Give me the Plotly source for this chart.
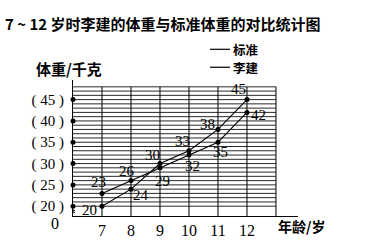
import plotly.graph_objects as go

ages = [7, 8, 9, 10, 11, 12]
lijian = [20, 24, 30, 33, 38, 45]
standard = [23, 26, 29, 32, 35, 42]
ytick_vals = [20, 25, 30, 35, 40, 45]
ytick_text = ["( 20 )", "( 25 )", "( 30 )", "( 35 )", "( 40 )", "( 45 )"]
legend_names = ["标准", "李建"]

# label offsets (px) for data labels
lj_off = [(-12, -4), (10, -6), (-7, 9), (-6, 10), (-10, 5), (-8, 11)]
st_off = [(-3, 11), (-4, 10), (3, -13), (4, -11), (3, -10), (12, -3)]

serif = "Liberation Serif, DejaVu Serif, serif"
cjk = "Noto Sans CJK SC, sans-serif"

L, R, T, B = 73, 72, 80, 27
W, H = 370, 251


def px2paper(px, py):
    return (px - L) / (W - L - R), 1 - (py - T) / (H - T - B)


fig = go.Figure()

for name, vals in [("标准", standard), ("李建", lijian)]:
    fig.add_trace(go.Scatter(
        x=ages, y=vals, mode="lines+markers", name=name,
        line=dict(color="black", width=1.1),
        marker=dict(color="black", size=5),
        showlegend=False, cliponaxis=False,
    ))

# dots on the y axis at tick values
fig.add_trace(go.Scatter(
    x=[6] * len(ytick_vals), y=ytick_vals, mode="markers",
    marker=dict(color="black", size=5), showlegend=False, cliponaxis=False,
))

shapes = []
for v in range(20, 49):
    shapes.append(dict(type="line", xref="x", yref="y", x0=6, x1=13, y0=v, y1=v,
                       line=dict(color="#111", width=0.9), layer="below"))
for a in range(7, 14):
    shapes.append(dict(type="line", xref="x", yref="y", x0=a, x1=a, y0=17.7, y1=48,
                       line=dict(color="#111", width=1.1), layer="below"))
# axis break zigzag
shapes.append(dict(type="path", xref="x", yref="y",
                   path="M 5.93 19.25 L 6.06 19.0 L 5.94 18.75 L 6.07 18.5",
                   line=dict(color="black", width=1)))

annotations = []
for vals, offs in [(lijian, lj_off), (standard, st_off)]:
    for a, v, (dx, dy) in zip(ages, vals, offs):
        annotations.append(dict(x=a, y=v, xref="x", yref="y", text=str(v),
                                showarrow=False, xshift=dx, yshift=dy,
                                font=dict(family=serif, size=15, color="black")))


def paper_text(px, py, text, size, family, anchor="left"):
    x, y = px2paper(px, py)
    return dict(x=x, y=y, xref="paper", yref="paper", text=text, showarrow=False,
                xanchor=anchor, yanchor="middle",
                font=dict(family=family, size=size, color="black"))


annotations += [
    paper_text(3, 20, "<b>7 ~ 12 岁时李建的体重与标准体重的对比统计图</b>", 15, cjk),
    paper_text(34, 68, "<b>体重/千克</b>", 15, cjk),
    paper_text(276, 235, "<b>年龄/岁</b>", 14, cjk),
    paper_text(55, 232, "0", 16, serif, "center"),
]

# legend: short line + label
for i, (name, py) in enumerate(zip(legend_names, [47.5, 66.5])):
    x0, y0 = px2paper(210, py)
    x1, _ = px2paper(230, py)
    shapes.append(dict(type="line", xref="paper", yref="paper", x0=x0, x1=x1,
                       y0=y0, y1=y0, line=dict(color="black", width=1.2)))
    annotations.append(paper_text(231, py, "<b>" + name + "</b>", 12.5, cjk))

fig.update_layout(
    width=W, height=H,
    margin=dict(l=L, r=R, t=T, b=B),
    paper_bgcolor="white", plot_bgcolor="white",
    shapes=shapes, annotations=annotations,
    xaxis=dict(range=[6, 13.76], tickvals=ages, ticktext=[str(a) for a in ages],
               showgrid=False, zeroline=False, showline=True,
               linecolor="black", linewidth=1.2, ticks="", ticklen=0,
               tickfont=dict(family=serif, size=16, color="black")),
    yaxis=dict(range=[17.7, 49.6], tickvals=ytick_vals, ticktext=ytick_text,
               showgrid=False, zeroline=False, showline=True,
               linecolor="black", linewidth=1.2, ticks="", ticklen=0,
               ticklabelstandoff=5,
               tickfont=dict(family=serif, size=15, color="black")),
)

fig.write_html("out.html")
